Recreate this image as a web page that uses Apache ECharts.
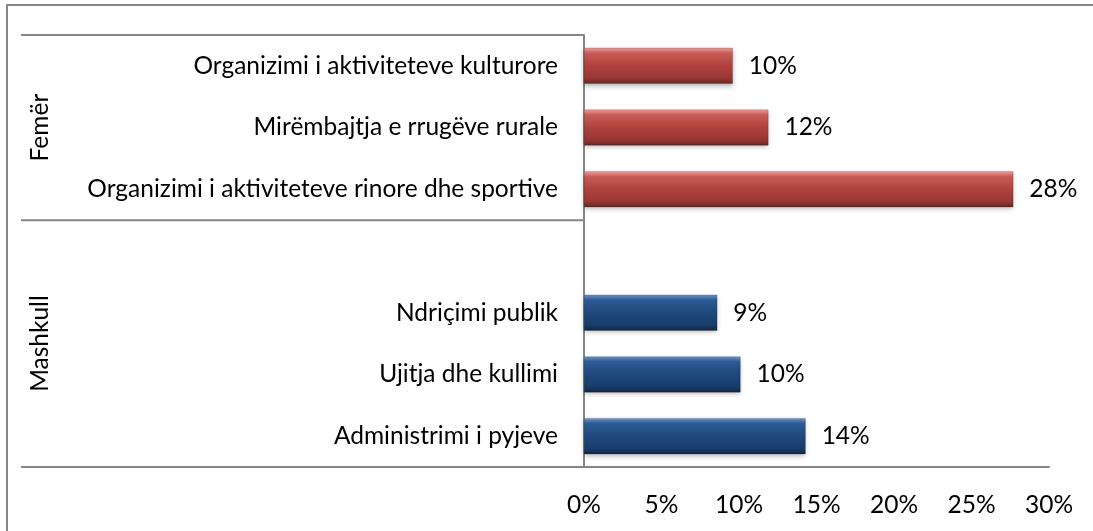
<!DOCTYPE html>
<html><head><meta charset="utf-8">
<script src="https://cdn.jsdelivr.net/npm/echarts@6/dist/echarts.min.js"></script>
<style>html,body{margin:0;padding:0;background:#fff}#c{width:1093px;height:531px}</style>
</head><body><div id="c"></div>
<script>
const categories = ["Organizimi i aktiviteteve kulturore", "Mirëmbajtja e rrugëve rurale", "Organizimi i aktiviteteve rinore dhe sportive", "", "Ndriçimi publik", "Ujitja dhe kullimi", "Administrimi i pyjeve"];
const femerValues = [9.6, 11.9, 27.7, null, null, null, null];
const mashkullValues = [null, null, null, null, 8.6, 10.1, 14.3];
const groupNames = ["Femër", "Mashkull"];
const xMin = 0, xMax = 30, xStep = 5;

const FONT = 'Lato';
const FS = 24.5;
const G = echarts.graphic;
const redGrad = new G.LinearGradient(0, 0, 0, 1, [
  {offset: 0, color: '#e8a19e'}, {offset: 0.15, color: '#c95b57'},
  {offset: 0.5, color: '#b0423e'}, {offset: 0.85, color: '#983532'}, {offset: 1, color: '#6b2220'}]);
const blueGrad = new G.LinearGradient(0, 0, 0, 1, [
  {offset: 0, color: '#7394c4'}, {offset: 0.15, color: '#2d5b94'},
  {offset: 0.5, color: '#1f497d'}, {offset: 0.85, color: '#183d69'}, {offset: 1, color: '#0e274a'}]);

function barSeries(name, data, grad) {
  return {
    name, type: 'bar', stack: 'all', data, barWidth: 36,
    itemStyle: {color: grad, borderColor: 'rgba(0,0,0,0.35)', borderWidth: 0.5,
      shadowBlur: 5, shadowColor: 'rgba(0,0,0,0.3)', shadowOffsetY: 2},
    label: {show: true, position: 'right', distance: 16, fontFamily: FONT, fontSize: FS, color: '#000',
      formatter: p => p.value == null ? '' : Math.round(p.value) + '%'},
    emphasis: {disabled: true}
  };
}

const chart = echarts.init(document.getElementById('c'), null, {renderer: 'canvas'});
const option = {
  animation: false,
  grid: {left: 584, right: 44, top: 35, bottom: 64, containLabel: false},
  xAxis: {type: 'value', min: xMin, max: xMax, interval: xStep,
    axisLine: {show: true, lineStyle: {color: '#868686', width: 2}},
    axisTick: {show: false}, splitLine: {show: false},
    axisLabel: {formatter: '{value}%', fontFamily: FONT, fontSize: FS, color: '#000', margin: 26}},
  yAxis: {type: 'category', data: categories, inverse: true,
    axisLine: {show: true, lineStyle: {color: '#868686', width: 2}},
    axisTick: {show: false},
    axisLabel: {fontFamily: FONT, fontSize: FS, color: '#000', margin: 26}},
  series: [barSeries(groupNames[0], femerValues, redGrad), barSeries(groupNames[1], mashkullValues, blueGrad)]
};
chart.setOption(option);

const c0 = chart.convertToPixel({yAxisIndex: 0}, categories[0]);
const c1 = chart.convertToPixel({yAxisIndex: 0}, categories[1]);
const slot = c1 - c0;
const topY = c0 - slot / 2;
const midY = chart.convertToPixel({yAxisIndex: 0}, categories[2]) + slot / 2;
const botY = chart.convertToPixel({yAxisIndex: 0}, categories[6]) + slot / 2;
const axisX = chart.convertToPixel({xAxisIndex: 0}, 0);
const lineStyle = {stroke: '#868686', lineWidth: 2};
chart.setOption({graphic: [
  {type: 'rect', shape: {x: 7, y: 5, width: 1100, height: 540}, style: {fill: 'none', stroke: '#868686', lineWidth: 2}, silent: true},
  {type: 'line', shape: {x1: 21, y1: topY, x2: axisX, y2: topY}, style: lineStyle, silent: true},
  {type: 'line', shape: {x1: 21, y1: midY, x2: axisX, y2: midY}, style: lineStyle, silent: true},
  {type: 'line', shape: {x1: 21, y1: botY, x2: axisX, y2: botY}, style: lineStyle, silent: true},
  {type: 'text', x: 40, y: (topY + midY) / 2, rotation: Math.PI / 2,
    style: {text: groupNames[0], font: FS + 'px ' + FONT, fill: '#000', align: 'center', verticalAlign: 'middle'}, silent: true},
  {type: 'text', x: 40, y: (midY + botY) / 2, rotation: Math.PI / 2,
    style: {text: groupNames[1], font: FS + 'px ' + FONT, fill: '#000', align: 'center', verticalAlign: 'middle'}, silent: true}
]});
</script></body></html>
